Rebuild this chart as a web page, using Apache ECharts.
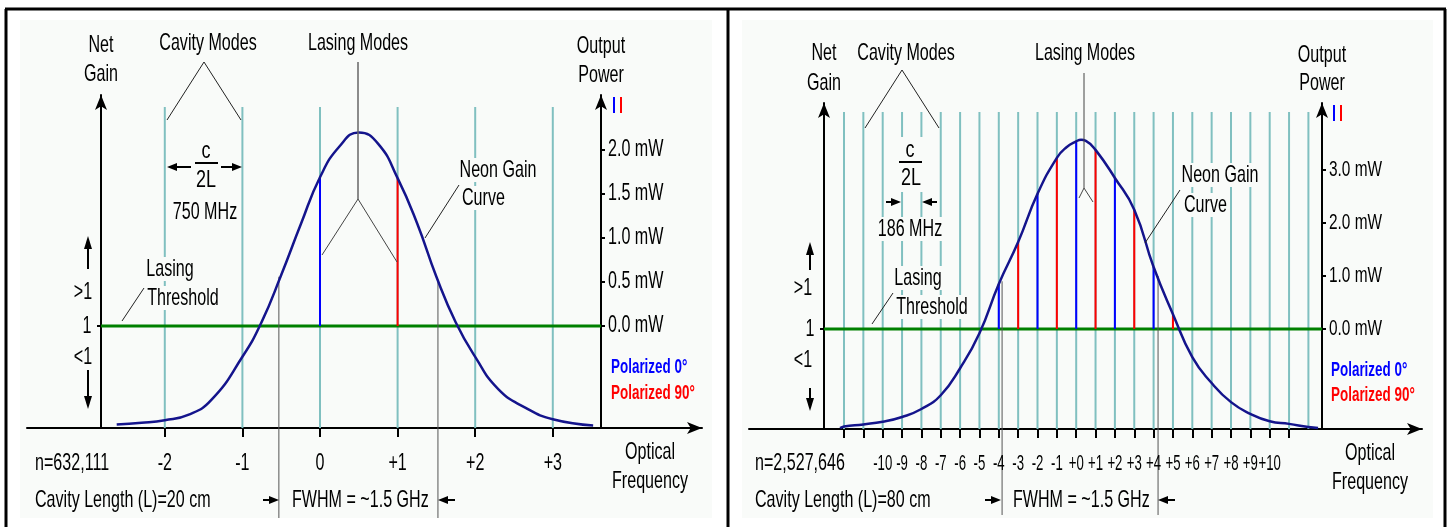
<!DOCTYPE html>
<html>
<head>
<meta charset="utf-8">
<title>Cavity modes and lasing modes</title>
<script src="https://cdn.jsdelivr.net/npm/echarts@6/dist/echarts.min.js"></script>
<style>
  html, body { margin: 0; padding: 0; background: #fff; }
  #main { width: 1453px; height: 527px; }
</style>
</head>
<body>
<div id="main"></div>
<script>
// ---- left panel: cavity length 20 cm, mode spacing 750 MHz ----
const modesA = [-2, -1, 0, 1, 2, 3];
const modeLabelsA = ['-2', '-1', '0', '+1', '+2', '+3'];
const gainFreqA = [-2.62, -2.3, -2, -1.7, -1.4, -1, -0.75, -0.5, -0.25, 0, 0.25, 0.5, 0.75, 1, 1.25, 1.5, 1.75, 2, 2.3, 2.65, 3, 3.52];
const gainPowerA = [-1.12, -1.1, -1.07, -1.01, -0.84, -0.35, 0.05, 0.58, 1.15, 1.69, 2.04, 2.2, 2.07, 1.68, 1.17, 0.56, 0.04, -0.35, -0.72, -0.93, -1.06, -1.13];
const pol0ModesA = [0];
const pol0PowerA = [1.69];
const pol90ModesA = [1];
const pol90PowerA = [1.68];
const powerTicksA = [0, 0.5, 1, 1.5, 2];
const powerLabelsA = ['0.0 mW', '0.5 mW', '1.0 mW', '1.5 mW', '2.0 mW'];
const fwhmFreqA = [-0.53, 1.52];
const fwhmTopA = [0.56, 0.52];

// ---- right panel: cavity length 80 cm, mode spacing 186 MHz ----
const cavityModesB = [-12, -11, -10, -9, -8, -7, -6, -5, -4, -3, -2, -1, 0, 1, 2, 3, 4, 5, 6, 7, 8, 9, 10, 11, 12];
const tickModesB = [-12, -11, -10, -9, -8, -7, -6, -5, -4, -3, -2, -1, 0, 1, 2, 3, 4, 5, 6, 7, 8, 9, 10, 11];
const labelModesB = [-10, -9, -8, -7, -6, -5, -4, -3, -2, -1, 0, 1, 2, 3, 4, 5, 6, 7, 8, 9, 10];
const modeLabelsB = ['-10', '-9', '-8', '-7', '-6', '-5', '-4', '-3', '-2', '-1', '+0', '+1', '+2', '+3', '+4', '+5', '+6', '+7', '+8', '+9', '+10'];
const gainFreqB = [-12.2, -12, -11, -10, -9, -8, -7, -6, -5, -4, -3, -2, -1, -0.5, 0, 0.25, 0.5, 1, 2, 3, 4, 5, 6, 7, 8, 9, 10, 11, 12, 12.5];
const gainPowerB = [-1.87, -1.84, -1.8, -1.75, -1.66, -1.51, -1.25, -0.74, -0.08, 0.85, 1.64, 2.55, 3.23, 3.43, 3.54, 3.57, 3.55, 3.38, 2.85, 2.25, 1.17, 0.28, -0.53, -1.02, -1.38, -1.6, -1.74, -1.79, -1.85, -1.87];
const pol0ModesB = [-4, -2, 0, 2, 4];
const pol0PowerB = [0.85, 2.55, 3.53, 2.85, 1.17];
const pol90ModesB = [-3, -1, 1, 3, 5];
const pol90PowerB = [1.64, 3.23, 3.38, 2.25, 0.28];
const powerTicksB = [0, 1, 2, 3];
const powerLabelsB = ['0.0 mW', '1.0 mW', '2.0 mW', '3.0 mW'];
const fwhmFreqB = [-3.83, 4.23];
const fwhmTopB = [0.9, 1.0];

// pixel geometry of the two panels
const geoA = { left: 27, right: 702, top: 95, bottom: 428, zeroX: 320, pxMode: 77.6, zeroY: 326, pxMW: 88, netX: 101, powX: 601, lineTop: 107, fwhmBottom: 518 };
const geoB = { left: 749, right: 1422, top: 103, bottom: 429, zeroX: 1076.2, pxMode: 19.35, zeroY: 329, pxMW: 53, netX: 824, powX: 1322, lineTop: 112, fwhmBottom: 515 };

const FONT = "'Liberation Sans', Arial, sans-serif";
const SX = 0.67;           // the original lettering is tall and narrow
const BG = '#f9fbf9';
const TEAL = '#80c0c0';
const NAVY = '#14148c';

const modeOf = (g, px) => (px - g.zeroX) / g.pxMode;
const mwOf = (g, py) => (g.zeroY - py) / g.pxMW;
const zip = (a, b) => a.map((v, i) => [v, b[i]]);

function gridOf(g) {
  return { left: g.left, top: g.top, width: g.right - g.left, height: g.bottom - g.top };
}

const AXLINE = { show: true, onZero: false, symbol: ['none', 'arrow'], symbolSize: [9, 15], lineStyle: { color: '#000', width: 2 } };

function xAxisOf(g, i, ticks) {
  return {
    gridIndex: i, type: 'value', min: modeOf(g, g.left), max: modeOf(g, g.right),
    splitLine: { show: false }, axisLine: AXLINE, axisLabel: { show: false },
    axisTick: { show: true, customValues: ticks, length: 9, lineStyle: { color: '#000', width: 2 } }
  };
}

function yAxesOf(g, i, ticks) {
  const min = mwOf(g, g.bottom), max = mwOf(g, g.top);
  return [{
    gridIndex: i, type: 'value', position: 'left', offset: -(g.netX - g.left), min, max,
    splitLine: { show: false }, axisLine: AXLINE, axisLabel: { show: false },
    axisTick: { show: true, customValues: [0], length: 4, lineStyle: { color: '#000', width: 2 } }
  }, {
    gridIndex: i, type: 'value', position: 'right', offset: -(g.right - g.powX), min, max,
    splitLine: { show: false }, axisLine: AXLINE, axisLabel: { show: false },
    axisTick: { show: true, customValues: ticks, length: 4, lineStyle: { color: '#000', width: 2 } }
  }];
}

// vertical segments drawn through the axes' scales
function vlines(xi, yi, xs, lows, highs, color, width, z) {
  return {
    type: 'custom', xAxisIndex: xi, yAxisIndex: yi, z, silent: true, clip: false,
    data: xs.map((x, k) => [x, Array.isArray(lows) ? lows[k] : lows, Array.isArray(highs) ? highs[k] : highs]),
    encode: { x: 0, y: [1, 2] },
    renderItem: (params, api) => {
      const a = api.coord([api.value(0), api.value(1)]);
      const b = api.coord([api.value(0), api.value(2)]);
      return { type: 'line', shape: { x1: a[0], y1: a[1], x2: b[0], y2: b[1] }, style: { stroke: color, lineWidth: width } };
    }
  };
}

// tick labels placed through the axes' scales, drawn narrow like the original
function tickText(xi, yi, xs, ys, texts, dx, dy, align, size, sx) {
  return {
    type: 'custom', xAxisIndex: xi, yAxisIndex: yi, z: 10, silent: true, clip: false,
    data: xs.map((x, k) => [x, Array.isArray(ys) ? ys[k] : ys, k]),
    encode: { x: 0, y: 1 },
    renderItem: (params, api) => {
      const c = api.coord([api.value(0), api.value(1)]);
      return {
        type: 'text', x: c[0] + dx, y: c[1] + dy, scaleX: sx,
        style: { text: texts[api.value(2)], font: size + 'px ' + FONT, fill: '#000', align, verticalAlign: 'middle' }
      };
    }
  };
}

function seriesOf(g, i, p) {
  const xi = i, yi = i * 2 + 1;
  return [
    vlines(xi, yi, p.cavity, mwOf(g, g.bottom), mwOf(g, g.lineTop), TEAL, 2, 1),
    {
      type: 'line', xAxisIndex: xi, yAxisIndex: yi, z: 3, silent: true, showSymbol: false,
      data: [[modeOf(g, g.netX), 0], [modeOf(g, g.powX), 0]],
      lineStyle: { color: '#008000', width: 3 }
    },
    vlines(xi, yi, p.m0, 0, p.p0, '#0000ff', 2, 4),
    vlines(xi, yi, p.m90, 0, p.p90, '#ff0000', 2, 4),
    vlines(xi, yi, p.fwhmX, mwOf(g, g.fwhmBottom), p.fwhmTop, '#555', 1, 4),
    {
      type: 'line', xAxisIndex: xi, yAxisIndex: yi, z: 5, silent: true, showSymbol: false, smooth: 0.5,
      data: zip(p.freq, p.power), lineStyle: { color: NAVY, width: 2.5 }
    },
    tickText(xi, yi, p.labelModes, mwOf(g, g.bottom), p.modeLabels, 0, 35, 'center', p.xSize, p.xScale),
    tickText(xi, yi, p.powerTicks.map(() => modeOf(g, g.powX)), p.powerTicks, p.powerLabels, 7, 0, 'left', p.ySize, 0.7),
    tickText(xi, yi, [modeOf(g, g.netX)], [0], ['1'], -14, 0, 'center', 24, SX)
  ];
}

// ---- annotation helpers (pixel positions) ----
function T(x, y, text, o) {
  o = o || {};
  return {
    type: 'text', z: 100, x, y, scaleX: o.sx || SX,
    style: {
      text, fill: o.color || '#000', font: (o.bold ? 'bold ' : '') + (o.size || 24) + 'px ' + FONT,
      align: o.align || 'center', verticalAlign: 'middle',
      backgroundColor: o.bg ? BG : null, padding: o.bg ? [0, 3] : 0
    }
  };
}
function L(points, color, width) {
  return { type: 'polyline', z: 90, shape: { points }, style: { stroke: color || '#222', lineWidth: width || 1, fill: null } };
}
function head(x, y, dir) { // filled arrow head, tip at (x,y)
  const pts = dir === 'left' ? [[x, y], [x + 10, y - 4], [x + 10, y + 4]]
    : dir === 'right' ? [[x, y], [x - 10, y - 4], [x - 10, y + 4]]
    : dir === 'up' ? [[x, y], [x - 4, y + 13], [x + 4, y + 13]]
    : [[x, y], [x - 4, y - 13], [x + 4, y - 13]];
  return { type: 'polygon', z: 95, shape: { points: pts }, style: { fill: '#000' } };
}
function R(x, y, w, h, fill, z) {
  return { type: 'rect', z, shape: { x, y, width: w, height: h }, style: { fill } };
}
const POL = { align: 'left', bold: true, size: 21, sx: 0.64 };

const graphics = [
  R(20, 20, 692, 498, BG, -10),
  R(742, 20, 691, 498, BG, -10),
  L([[5, 9], [1446, 9]], '#000', 3),
  L([[6, 9], [6, 527]], '#000', 3),
  L([[728, 9], [728, 527]], '#000', 3),
  L([[1445, 9], [1445, 527]], '#000', 3),

  // ---- left panel ----
  T(101, 45, 'Net'), T(101, 74, 'Gain'),
  T(208, 43, 'Cavity Modes'),
  L([[167, 120], [204, 62], [241, 120]]),
  T(206, 151, 'c', { sx: 0.75 }), L([[195, 163], [218, 163]], '#000', 2), T(206, 180, '2L', { sx: 0.75 }),
  L([[176, 167], [191, 167]], '#000', 2), head(167, 167, 'left'),
  L([[221, 167], [233, 167]], '#000', 2), head(242, 167, 'right'),
  T(205, 212, '750 MHz'),
  L([[88, 245], [88, 269]], '#000', 2), head(88, 236, 'up'),
  L([[88, 370], [88, 398]], '#000', 2), head(88, 409, 'down'),
  T(83, 292, '>1'), T(83, 357, '<1'),
  T(170, 269, 'Lasing', { bg: true }), T(183, 298, 'Threshold', { bg: true }),
  L([[122, 321], [144, 288]]),
  T(358, 43, 'Lasing Modes'),
  L([[358, 62], [358, 199]], '#666', 1.5),
  L([[322, 255], [358, 199], [397, 262]], '#444', 1),
  T(498, 170, 'Neon Gain', { bg: true }), T(460, 198, 'Curve', { bg: true, align: 'left' }),
  L([[459, 185], [425, 238]]),
  T(601, 46, 'Output'), T(601, 75, 'Power'),
  L([[614, 97], [614, 113]], '#0000ff', 2), L([[621, 97], [621, 113]], '#ff0000', 2),
  T(611, 367, 'Polarized 0°', Object.assign({ color: '#0000ff' }, POL)),
  T(611, 393, 'Polarized 90°', Object.assign({ color: '#ff0000' }, POL)),
  T(35, 463, 'n=632,111', { align: 'left' }),
  T(35, 500, 'Cavity Length (L)=20 cm', { align: 'left' }),
  L([[263, 500], [272, 500]], '#000', 2), head(279, 500, 'right'),
  T(292, 500, 'FWHM = ~1.5 GHz', { align: 'left' }),
  L([[446, 500], [455, 500]], '#000', 2), head(438, 500, 'left'),
  T(650, 452, 'Optical'), T(650, 481, 'Frequency'),

  // ---- right panel ----
  T(824, 53, 'Net'), T(824, 83, 'Gain'),
  T(906, 53, 'Cavity Modes'),
  L([[865, 128], [902, 70], [939, 128]]),
  R(896, 137, 29, 55, BG, 80),
  T(910, 150, 'c', { sx: 0.75 }), L([[899, 162], [922, 162]], '#000', 2), T(911, 178, '2L', { sx: 0.75 }),
  L([[886, 202], [893, 202]], '#000', 2), head(901, 202, 'right'),
  L([[930, 202], [937, 202]], '#000', 2), head(922, 202, 'left'),
  T(910, 229, '186 MHz', { bg: true }),
  L([[810, 251], [810, 270]], '#000', 2), head(810, 242, 'up'),
  L([[810, 388], [810, 400]], '#000', 2), head(810, 411, 'down'),
  T(803, 288, '>1'), T(803, 360, '<1'),
  T(918, 278, 'Lasing', { bg: true }), T(932, 307, 'Threshold', { bg: true }),
  L([[872, 324], [893, 293]]),
  T(1085, 53, 'Lasing Modes'),
  L([[1084, 73], [1084, 188]], '#444', 1),
  L([[1079, 198], [1084, 188], [1093, 202]], '#444', 1),
  T(1220, 175, 'Neon Gain', { bg: true }), T(1182, 205, 'Curve', { bg: true, align: 'left' }),
  L([[1180, 190], [1145, 243]]),
  T(1322, 55, 'Output'), T(1322, 83, 'Power'),
  L([[1334, 105], [1334, 121]], '#0000ff', 2), L([[1341, 105], [1341, 121]], '#ff0000', 2),
  T(1331, 370, 'Polarized 0°', Object.assign({ color: '#0000ff' }, POL)),
  T(1331, 395, 'Polarized 90°', Object.assign({ color: '#ff0000' }, POL)),
  T(755, 463, 'n=2,527,646', { align: 'left' }),
  T(755, 500, 'Cavity Length (L)=80 cm', { align: 'left' }),
  L([[985, 500], [994, 500]], '#000', 2), head(1001, 500, 'right'),
  T(1013, 500, 'FWHM = ~1.5 GHz', { align: 'left' }),
  L([[1166, 500], [1175, 500]], '#000', 2), head(1158, 500, 'left'),
  T(1370, 453, 'Optical'), T(1370, 482, 'Frequency')
];

const chart = echarts.init(document.getElementById('main'));
chart.setOption({
  backgroundColor: '#fff',
  animation: false,
  grid: [gridOf(geoA), gridOf(geoB)],
  xAxis: [xAxisOf(geoA, 0, modesA), xAxisOf(geoB, 1, tickModesB)],
  yAxis: [...yAxesOf(geoA, 0, powerTicksA), ...yAxesOf(geoB, 1, powerTicksB)],
  series: [
    ...seriesOf(geoA, 0, {
      cavity: modesA, freq: gainFreqA, power: gainPowerA,
      m0: pol0ModesA, p0: pol0PowerA, m90: pol90ModesA, p90: pol90PowerA,
      fwhmX: fwhmFreqA, fwhmTop: fwhmTopA,
      labelModes: modesA, modeLabels: modeLabelsA, xSize: 24, xScale: SX,
      powerTicks: powerTicksA, powerLabels: powerLabelsA, ySize: 23
    }),
    ...seriesOf(geoB, 1, {
      cavity: cavityModesB, freq: gainFreqB, power: gainPowerB,
      m0: pol0ModesB, p0: pol0PowerB, m90: pol90ModesB, p90: pol90PowerB,
      fwhmX: fwhmFreqB, fwhmTop: fwhmTopB,
      labelModes: labelModesB, modeLabels: modeLabelsB, xSize: 22, xScale: 0.6,
      powerTicks: powerTicksB, powerLabels: powerLabelsB, ySize: 22
    })
  ],
  graphic: { elements: graphics }
});
</script>
</body>
</html>
